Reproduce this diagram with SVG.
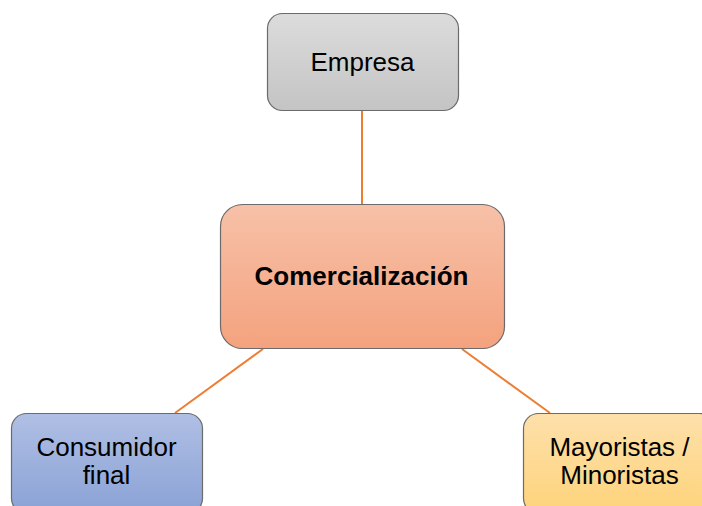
<svg xmlns="http://www.w3.org/2000/svg" width="702" height="506" viewBox="0 0 702 506">
<defs>
<linearGradient id="gGray" x1="0" y1="0" x2="0" y2="1"><stop offset="0" stop-color="#dcdcdc"/><stop offset="1" stop-color="#c4c4c4"/></linearGradient>
<linearGradient id="gOrange" x1="0" y1="0" x2="0" y2="1"><stop offset="0" stop-color="#f7c1a8"/><stop offset="1" stop-color="#f4a27e"/></linearGradient>
<linearGradient id="gBlue" x1="0" y1="0" x2="0" y2="1"><stop offset="0" stop-color="#b0bfe4"/><stop offset="1" stop-color="#8aa2d6"/></linearGradient>
<linearGradient id="gYellow" x1="0" y1="0" x2="0" y2="1"><stop offset="0" stop-color="#fde0ab"/><stop offset="1" stop-color="#fed37a"/></linearGradient>
</defs>
<style>
.box{stroke:#6b6b6b;stroke-width:1.2}
.lbl{font-family:"Liberation Sans",Arial,sans-serif;font-size:26px;fill:#000;text-anchor:middle}
.conn{stroke:#ed7d31;stroke-width:2;fill:none}
</style>
<rect width="702" height="506" fill="#fff"/>
<g id="connectors">
<line class="conn" x1="362" y1="111" x2="362" y2="204"/>
<line class="conn" x1="263" y1="349" x2="175" y2="413"/>
<line class="conn" x1="462" y1="349" x2="550" y2="413"/>
</g>
<g id="empresa">
<rect class="box" x="267.5" y="13.5" width="191" height="97" rx="15" fill="url(#gGray)"/>
<text class="lbl" x="362.5" y="71">Empresa</text>
</g>
<g id="comercializacion">
<rect class="box" x="220.5" y="204.5" width="284" height="144" rx="22" fill="url(#gOrange)"/>
<text class="lbl" x="361.5" y="285" font-weight="bold">Comercialización</text>
</g>
<g id="consumidor">
<rect class="box" x="11.5" y="413.5" width="191" height="100" rx="15" fill="url(#gBlue)"/>
<text class="lbl" x="106.5" y="456">Consumidor</text>
<text class="lbl" x="106.5" y="484">final</text>
</g>
<g id="mayoristas">
<rect class="box" x="523.5" y="413.5" width="191" height="100" rx="15" fill="url(#gYellow)"/>
<text class="lbl" x="619.5" y="456">Mayoristas /</text>
<text class="lbl" x="619.5" y="484">Minoristas</text>
</g>
</svg>
